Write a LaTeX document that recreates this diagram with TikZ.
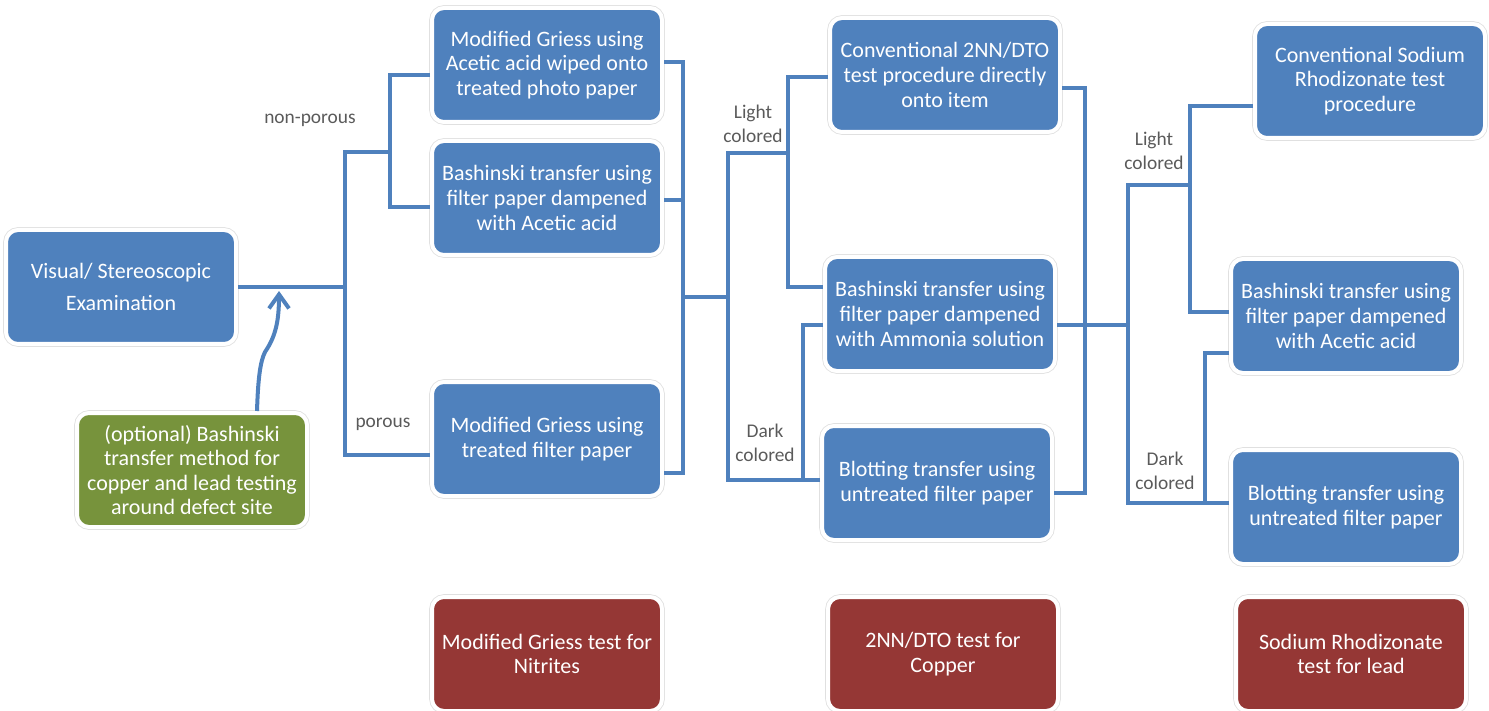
\documentclass[tikz,border=0pt]{standalone}
\usepackage{fontspec}
\setmainfont{Carlito}
\usetikzlibrary{arrows.meta}
\definecolor{boxblue}{HTML}{4F81BD}
\definecolor{boxgreen}{HTML}{77933C}
\definecolor{boxred}{HTML}{953735}
\definecolor{labelgray}{HTML}{5A5A5A}
\tikzset{
    test-box/.style = {rectangle, rounded corners=6pt, draw=white, line width=2pt, preaction={draw=black!12, line width=2.8pt}, text=white, align=center, inner sep=0pt, minimum width=115pt, minimum height=57pt, font=\fontsize{11}{12.3}\selectfont},
    blue-box/.style = {test-box, fill=boxblue},
    green-box/.style = {test-box, fill=boxgreen},
    red-box/.style = {test-box, fill=boxred},
    branch-label/.style = {text=labelgray, align=center, inner sep=0pt, font=\fontsize{9.7}{12}\selectfont},
    link/.style = {draw=boxblue, line width=2pt},
}

\begin{document}
\begin{tikzpicture}[x=0.5pt, y=-0.5pt]
\useasboundingbox (0,0) rectangle (1489,711);

\node [blue-box, font=\fontsize{11}{16}\selectfont] (vis) at (121,287) {Visual/ Stereoscopic\\Examination};
\node [green-box] (opt) at (192,470) {(optional) Bashinski\\transfer method for\\copper and lead testing\\around defect site};

\node [blue-box] (mg1) at (547,65) {Modified Griess using\\Acetic acid wiped onto\\treated photo paper};
\node [blue-box] (bsa) at (547,198) {Bashinski transfer using\\filter paper dampened\\with Acetic acid};
\node [blue-box] (mg2) at (547,439) {Modified Griess using\\treated filter paper};

\node [blue-box] (cdto) at (945,75) {Conventional 2NN/DTO\\test procedure directly\\onto item};
\node [blue-box] (bam) at (940,314) {Bashinski transfer using\\filter paper dampened\\with Ammonia solution};
\node [blue-box] (blt1) at (937,483) {Blotting transfer using\\untreated filter paper};

\node [blue-box] (csr) at (1370,81) {Conventional Sodium\\Rhodizonate test\\procedure};
\node [blue-box] (bac) at (1346,316) {Bashinski transfer using\\filter paper dampened\\with Acetic acid};
\node [blue-box] (blt2) at (1346,507) {Blotting transfer using\\untreated filter paper};

\node [red-box] (nit) at (547,654) {Modified Griess test for\\Nitrites};
\node [red-box] (cu) at (943,654) {2NN/DTO test for\\Copper};
\node [red-box] (pb) at (1351,654) {Sodium Rhodizonate\\test for lead};

\node [branch-label] (nonpor) at (310,120) {non-porous};
\node [branch-label] (por) at (383,424) {porous};
\node [branch-label] (light1) at (753,124) {Light\\colored};
\node [branch-label] (dark1) at (765,443) {Dark\\colored};
\node [branch-label] (light2) at (1154,151) {Light\\colored};
\node [branch-label] (dark2) at (1165,471) {Dark\\colored};

% nitrite branch
\coordinate (s1) at (345,287);
\coordinate (s1a) at (390,152);
\draw[link] (vis.east |- s1) -- (s1);
\draw[link] (mg2.west |- 0,455) -| (s1) |- (s1a);
\draw[link] (mg1.west |- 0,75) -| (s1a) |- (bsa.west |- 0,207);

% copper branch
\coordinate (s2) at (683,297);
\coordinate (s3) at (728,297);
\coordinate (s3a) at (788,153);
\draw[link] (mg1.east |- 0,62) -| (s2) |- (mg2.east |- 0,473);
\draw[link] (bsa.east |- 0,200) -- (s2 |- 0,200);
\draw[link] (s2) -- (s3);
\draw[link] (blt1.west |- 0,480) -| (s3) |- (s3a);
\draw[link] (cdto.west |- 0,77) -| (s3a) |- (bam.west |- 0,287);
\draw[link] (bam.west |- 0,325) -| (803,480);

% lead branch
\coordinate (s4) at (1128,325);
\coordinate (s4a) at (1190,185);
\draw[link] (cdto.east |- 0,88) -| (1085,493) -- (blt1.east |- 0,493);
\draw[link] (bam.east |- 0,325) -- (s4);
\draw[link] (blt2.west |- 0,503) -| (s4) |- (s4a);
\draw[link] (csr.west |- 0,106) -| (s4a) |- (bac.west |- 0,312);
\draw[link] (bac.west |- 0,353) -| (1205,503);

\draw[link, -{Straight Barb[length=7pt,width=10pt]}] (opt.north -| 257,0) .. controls (258,380) and (260,362) .. (265,352) .. controls (276,336) and (279,320) .. (279,291);
\end{tikzpicture}
\end{document}
